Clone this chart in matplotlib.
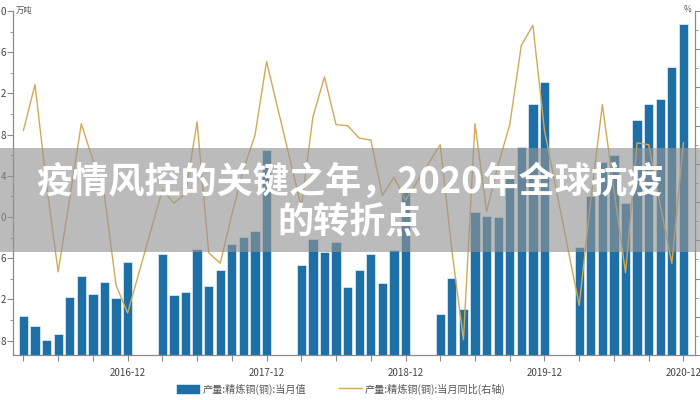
import matplotlib.pyplot as plt
from matplotlib.patches import Rectangle
from matplotlib.ticker import MultipleLocator

plt.rcParams['font.family'] = ['Noto Sans CJK SC', 'DejaVu Sans']

# reporting months (Jan/Feb not published), 2016-03 .. 2020-12
years = [2016, 2017, 2018, 2019, 2020]
months = [f'{y}-{m:02d}' for y in years for m in range(3, 13)]

# refined copper output, monthly value (万吨)
output = [
    70.4, 69.4, 68.1, 68.6, 72.2, 74.3, 72.5, 73.7, 72.1, 75.6,   # 2016
    76.4, 72.4, 72.7, 76.9, 73.3, 74.9, 77.4, 78.1, 78.6, 86.5,   # 2017
    75.3, 77.9, 76.6, 77.6, 73.2, 74.9, 76.4, 73.6, 76.8, 82.4,   # 2018
    70.6, 74.1, 71.1, 80.5, 80.1, 80.0, 83.8, 86.8, 91.0, 93.1,   # 2019
    77.1, 82.0, 85.3, 86.0, 81.4, 89.4, 91.0, 91.5, 94.6, 98.7,   # 2020
]

# year-on-year change (%, right axis)
yoy = [
    7.5, 12.3, 1.8, -7.3, 0.4, 8.2, 4.4, 0.7, -8.7, -11.6,        # 2016
    1.3, -0.1, 0.9, 8.4, -5.3, -6.4, -1.3, 3.4, 7.0, 14.7,        # 2017
    -0.5, 8.9, 13.1, 8.1, 8.0, 6.7, 6.5, 0.7, 2.6, 0.2,           # 2018
    6.0, -5.0, -14.4, 8.2, -1.0, 3.9, 8.1, 16.4, 18.5, 7.5,       # 2019
    -10.8, 0.2, 10.2, 1.3, -7.4, 6.2, 6.0, -0.3, -6.4, 6.2,       # 2020
]

# left axis ticks; the source image is cropped so only the last digit shows
y_ticks = [68, 72, 76, 80, 84, 88, 92, 96, 100]
y_tick_labels = ['8', '2', '6', '0', '4', '8', '2', '6', '0']

title_lines = ['疫情风控的关键之年，2020年全球抗疫', '的转折点']
bar_label = '产量:精炼铜(铜):当月值'
line_label = '产量:精炼铜(铜):当月同比(右轴)'

# month index, 0 = 2016-12
x = [(int(s[:4]) - 2016) * 12 + int(s[5:]) - 12 for s in months]

fig = plt.figure(figsize=(7, 4), dpi=100)
ax = fig.add_axes([13 / 700, 45 / 400, 682 / 700, 344 / 400])

bars = ax.bar(x, output, width=0.8, color='#1e6fa5', edgecolor='#e4f2fa',
              linewidth=0.5, zorder=2)
ax.set_xlim(-9.9, 49)
ax.set_ylim(66.6, 100)

ax2 = ax.twinx()
line, = ax2.plot(x, yoy, color='#d3a955', lw=1.0, zorder=3)
ax2.set_ylim(-16, 20)

# axes styling
axis_col = '#8a8a8a'
for a in (ax, ax2):
    a.spines['top'].set_visible(False)
    for s in ('left', 'right', 'bottom'):
        a.spines[s].set_color(axis_col)
        a.spines[s].set_linewidth(0.8)

ax.set_yticks(y_ticks)
ax.set_yticklabels(y_tick_labels)
ax.yaxis.set_minor_locator(MultipleLocator(2))
ax.tick_params(axis='y', which='major', length=4, color=axis_col,
               labelsize=7, labelcolor='#444444', pad=1)
ax.tick_params(axis='y', which='minor', length=2, color=axis_col)

ax2.yaxis.set_major_locator(MultipleLocator(4))
ax2.yaxis.set_minor_locator(MultipleLocator(2))
ax2.tick_params(axis='y', which='major', length=4, color=axis_col, labelright=False)
ax2.tick_params(axis='y', which='minor', length=2, color=axis_col)

xt = list(range(-9, 49, 3))
ax.set_xticks(xt)
ax.set_xticklabels([f'{2017 + t // 12 - 1}-12' if t % 12 == 0 else '' for t in xt])
ax.tick_params(axis='x', length=4, color=axis_col, labelsize=7,
               labelcolor='#444444', pad=5)

fig.text(16 / 700, 1 - 10 / 400, '万吨', fontsize=6, color='#555555', va='center')
fig.text(688 / 700, 1 - 10 / 400, '%', fontsize=6, color='#555555', va='center', ha='center')

fig.legend([bars, line], [bar_label, line_label], loc='center',
           bbox_to_anchor=(341 / 700, 1 - 389 / 400), ncol=2, frameon=False,
           fontsize=7.3, labelcolor='#555555', handlelength=2.3,
           handleheight=1.2, columnspacing=3.2, handletextpad=0.3)

# grey banner with title
fig.add_artist(Rectangle((0, 1 - 252 / 400), 1, 104 / 400, transform=fig.transFigure,
                         facecolor='#949494', alpha=0.63, edgecolor='none', zorder=5))
fig.text(0.5, 1 - 182 / 400, title_lines[0], fontsize=26, fontweight='bold',
         color='white', ha='center', va='center', zorder=6)
fig.text(0.5, 1 - 222 / 400, title_lines[1], fontsize=26, fontweight='bold',
         color='white', ha='center', va='center', zorder=6)

fig.savefig('out.png', dpi=100)
